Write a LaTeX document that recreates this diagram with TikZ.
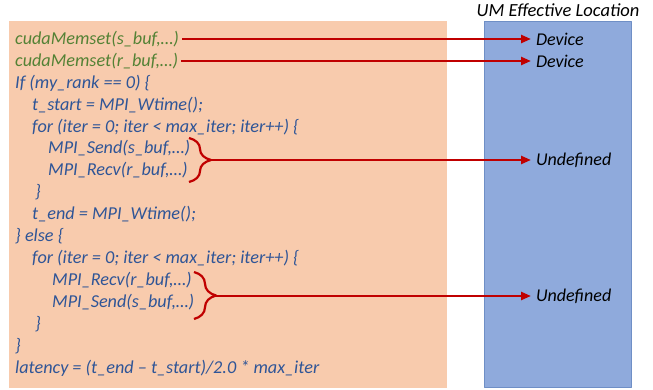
\documentclass[tikz,border=0pt]{standalone}
\usepackage{fontspec}
\setmainfont{Carlito}
\usetikzlibrary{arrows.meta,decorations.pathreplacing,positioning}
\definecolor{umorange}{HTML}{F8CBAD}
\definecolor{umblue}{HTML}{8FAADC}
\definecolor{umedge}{HTML}{6F8FC6}
\definecolor{umgreen}{HTML}{548235}
\definecolor{umcode}{HTML}{2F5597}
\definecolor{umred}{HTML}{C00000}

\begin{document}
\begin{tikzpicture}[x=1pt,y=-1pt,line join=round,
  code/.style={anchor=west,inner sep=3pt,text=umcode,font=\itshape\fontsize{18.2}{21}\selectfont},
  init/.style={code,text=umgreen},
  loc/.style={anchor=west,inner sep=0pt,outer sep=5pt,font=\itshape\fontsize{18}{21}\selectfont},
  flow/.style={umred,line width=2.4pt,-{Triangle[length=10pt,width=8pt]}},
  curly/.style={umred,line width=2.2pt,decorate,decoration={brace,amplitude=22pt}}]
\path[use as bounding box] (0,0) rectangle (653,389);
\fill[white] (0,0) rectangle (653,389);

% code panel and location column
\fill[umorange] (9,21) rectangle (447,388);
\filldraw[fill=umblue,draw=umedge,line width=.8pt] (484,21) rectangle (631,387);
\node[font=\itshape\fontsize{18.5}{21}\selectfont] (title) at (558,10) {UM Effective Location};

% code lines
\node[init] (ms1) at (12,39) {cudaMemset(s\_buf,…)};
\node[init] (ms2) at (12,61) {cudaMemset(r\_buf,…)};
\node[code] (if0) at (12,83) {If (my\_rank == 0) \{};
\node[code] (ts) at (29,105) {t\_start = MPI\_Wtime();};
\node[code] (for0) at (29,127) {for (iter = 0; iter < max\_iter; iter++) \{};
\node[code] (snd0) at (45,148) {MPI\_Send(s\_buf,…)};
\node[code] (rcv0) at (45,170) {MPI\_Recv(r\_buf,…)};
\node[code] (cl0) at (32,192) {\}};
\node[code] (te) at (29,214) {t\_end = MPI\_Wtime();};
\node[code] (els) at (12,236) {\} else \{};
\node[code] (for1) at (29,258) {for (iter = 0; iter < max\_iter; iter++) \{};
\node[code] (rcv1) at (49,280) {MPI\_Recv(r\_buf,…)};
\node[code] (snd1) at (49,302) {MPI\_Send(s\_buf,…)};
\node[code] (cl1) at (32,324) {\}};
\node[code] (cl2) at (12,346) {\}};
\node[code] (lat) at (12,368) {latency = (t\_end – t\_start)/2.0 * max\_iter};

% locations
\node[loc] (dev1) at (531,39) {Device};
\node[loc] (dev2) at (531,61) {Device};
\node[loc] (und0) at (531,160) {Undefined};
\node[loc] (und1) at (531,296) {Undefined};

% braces round the send/recv pairs
\draw[curly] (189,138) -- (189,182);
\draw[curly] (194,272) -- (194,319);
\coordinate (br0) at (211,160);
\coordinate (br1) at (216,296);

% arrows
\draw[flow] (ms1.east) -- (dev1);
\draw[flow] (ms2.east) -- (dev2);
\draw[flow] (br0) -- (und0);
\draw[flow] (br1) -- (und1);
\end{tikzpicture}
\end{document}
